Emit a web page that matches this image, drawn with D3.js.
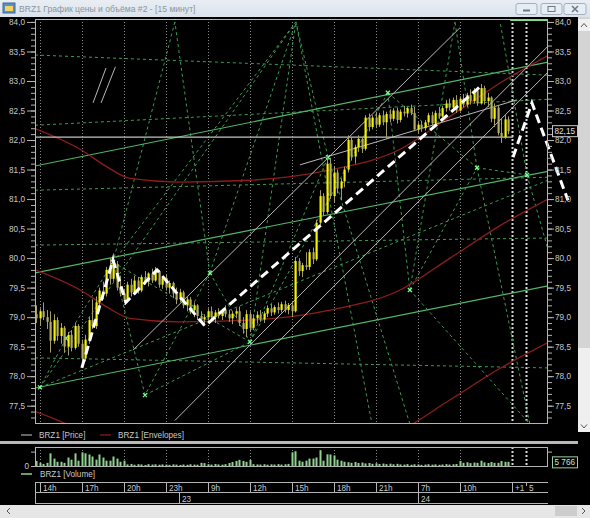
<!DOCTYPE html>
<html>
<head>
<meta charset="utf-8">
<script src="https://cdn.jsdelivr.net/npm/d3@7"></script>
<style>
  body { margin: 0; background: #000; overflow: hidden; }
  svg text { font-family: "Liberation Sans", Arial, sans-serif; }
</style>
</head>
<body>
<script>
// ---- data: 15-minute bars, BRZ1 ----
var opens = [79.05,78.98,79.10,79.00,78.92,78.60,78.95,78.68,78.82,78.50,
  78.70,78.48,78.85,78.55,78.30,78.62,78.95,78.85,79.25,79.45,
  79.40,79.80,79.65,79.90,79.50,79.40,79.30,79.55,79.42,79.62,
  79.45,79.68,79.60,79.74,79.62,79.78,79.55,79.66,79.50,79.58,
  79.40,79.30,79.42,79.20,79.30,79.12,79.20,79.02,78.96,79.00,
  79.10,79.00,79.08,79.02,79.12,79.05,78.98,79.06,79.10,78.90,
  78.80,79.05,78.82,78.98,79.04,78.96,79.06,79.15,79.08,79.17,
  79.12,79.22,79.12,79.20,79.10,79.95,79.78,79.88,79.85,80.10,
  79.98,80.60,81.05,80.78,81.60,81.05,81.45,81.18,81.30,81.50,
  82.00,81.72,81.88,82.02,81.85,82.38,82.22,82.38,82.26,82.42,
  82.30,82.44,82.36,82.50,82.34,82.48,82.45,82.54,82.46,82.18,
  82.26,82.20,82.30,82.42,82.28,82.46,82.40,82.54,82.62,82.55,
  82.68,82.50,82.70,82.60,82.76,82.66,82.84,82.62,82.88,82.66,
  82.72,82.36,82.55,82.12,82.05,82.35];
var highs = [79.20,79.15,79.25,79.12,79.10,79.05,79.00,78.90,78.85,78.75,
  78.78,78.90,78.88,78.62,78.70,79.00,79.30,79.35,79.50,79.60,
  79.85,80.00,80.08,79.95,79.70,79.48,79.60,79.65,79.70,79.68,
  79.72,79.78,79.76,79.82,79.85,79.80,79.70,79.72,79.62,79.60,
  79.50,79.48,79.45,79.35,79.34,79.25,79.22,79.10,79.05,79.15,
  79.18,79.12,79.15,79.14,79.20,79.12,79.10,79.15,79.18,79.00,
  79.12,79.10,79.05,79.10,79.12,79.10,79.20,79.22,79.20,79.25,
  79.26,79.28,79.24,79.26,80.02,80.00,79.92,80.10,80.15,80.18,
  80.65,81.15,81.10,81.75,81.70,81.55,81.50,81.35,81.55,82.08,
  82.05,81.92,82.08,82.05,82.42,82.45,82.42,82.48,82.46,82.50,
  82.48,82.52,82.54,82.55,82.52,82.58,82.56,82.60,82.56,82.30,
  82.32,82.34,82.46,82.48,82.50,82.56,82.58,82.68,82.70,82.72,
  82.76,82.74,82.78,82.80,82.86,82.88,82.90,82.95,82.92,82.80,
  82.74,82.62,82.58,82.36,82.42,82.40];
var lows = [78.90,78.85,78.95,78.80,78.40,78.55,78.60,78.55,78.40,78.35,
  78.42,78.45,78.50,78.14,78.25,78.55,78.80,78.80,79.15,79.30,
  79.35,79.55,79.60,79.45,79.35,79.24,79.28,79.35,79.40,79.40,
  79.42,79.55,79.52,79.58,79.60,79.50,79.48,79.45,79.40,79.32,
  79.22,79.25,79.15,79.10,79.05,79.00,78.95,78.90,78.85,78.92,
  78.95,78.90,78.98,78.95,79.00,78.92,78.88,78.98,78.85,78.72,
  78.66,78.75,78.78,78.90,78.92,78.90,79.00,79.02,79.04,79.06,
  79.08,79.08,79.05,79.00,79.08,79.70,79.68,79.80,79.80,79.90,
  79.95,80.55,80.72,80.75,81.00,80.95,81.10,80.98,81.20,81.45,
  81.65,81.60,81.80,81.78,81.82,82.15,82.18,82.20,82.22,82.25,
  82.02,82.30,82.32,82.28,82.30,82.40,82.38,82.42,82.15,82.12,
  82.14,82.16,82.25,82.24,82.26,82.36,82.38,82.48,82.50,82.52,
  82.46,82.48,82.55,82.56,82.60,82.62,82.58,82.60,82.60,82.56,
  82.30,82.22,82.08,81.95,82.02,82.10];
var closes = [78.98,79.10,79.00,78.92,78.60,78.95,78.68,78.82,78.50,78.70,
  78.48,78.85,78.55,78.30,78.62,78.95,78.85,79.25,79.45,79.40,
  79.80,79.65,79.90,79.50,79.40,79.30,79.55,79.42,79.62,79.45,
  79.68,79.60,79.74,79.62,79.78,79.55,79.66,79.50,79.58,79.40,
  79.30,79.42,79.20,79.30,79.12,79.20,79.02,78.96,79.00,79.10,
  79.00,79.08,79.02,79.12,79.05,78.98,79.06,79.10,78.90,78.80,
  79.05,78.82,78.98,79.04,78.96,79.06,79.15,79.08,79.17,79.12,
  79.22,79.12,79.20,79.10,79.95,79.78,79.88,79.85,80.10,79.98,
  80.60,81.05,80.78,81.60,81.05,81.45,81.18,81.30,81.50,82.00,
  81.72,81.88,82.02,81.85,82.38,82.22,82.38,82.26,82.42,82.30,
  82.44,82.36,82.50,82.34,82.48,82.45,82.54,82.46,82.18,82.26,
  82.20,82.30,82.42,82.28,82.46,82.40,82.54,82.62,82.55,82.68,
  82.50,82.70,82.60,82.76,82.66,82.84,82.62,82.88,82.66,82.72,
  82.36,82.55,82.12,82.05,82.35,82.15];
var volumes = [7000,4400,2900,4400,17600,10300,5900,5900,4400,11800,
  8800,17600,7400,19000,17600,16000,13200,8800,16000,11800,
  7400,7400,13200,10300,5900,7400,2200,2900,1800,2500,
  2200,1500,2600,2000,2400,1800,2200,2000,1600,2300,
  1900,1500,2100,1700,2400,2000,1800,4400,4000,2500,
  2000,2800,2200,1900,2600,4200,5500,7000,8600,7000,
  5800,8400,2600,2200,2000,2500,1800,2300,2100,2600,
  2000,2400,2900,19000,20500,7400,5900,7400,10300,10300,
  11800,22000,7400,16200,16000,14700,8800,7400,5900,5200,
  4400,5600,4200,4800,3600,4200,3000,3800,2800,3400,
  2600,3200,2400,3000,2200,2000,2600,1800,2400,2200,
  1600,2000,2500,1900,2300,1700,2100,2600,2000,2400,
  2800,7000,4400,5200,4000,4800,4400,7400,5000,4200,
  5600,4400,4400,7000,5800,5766];

// envelope middle line (MA), bands are +/-3%
var envIdx = [-0.4, 12.5, 20.2, 26.8, 41, 61, 84, 104, 118.3, 132.6, 146.3];
var envMid = [79.80, 79.46, 79.17, 78.98, 78.92, 78.95, 79.12, 79.46, 80.00, 80.55, 81.00];

// time axis
var tickIdx = [1, 13, 25, 37, 49, 61, 73, 85, 97, 109, 121, 136, 140];
var tickLabels = ["14h", "17h", "20h", "23h", "9h", "12h", "15h", "18h", "21h", "7h", "10h", "+1", "5"];
var dayIdx = [40.8, 109];
var dayLabels = ["23", "24"];
var priceTicks = [77.5, 78.0, 78.5, 79.0, 79.5, 80.0, 80.5, 81.0, 81.5, 82.0, 82.5, 83.0, 83.5, 84.0];
var lastPrice = 82.15;

// drawing objects: [index1, price1, index2, price2]
var zigzagA = [[13, 78.14], [21.9, 79.97], [25.6, 79.25], [34.5, 79.80], [48.2, 78.85], [127.4, 82.93]];
var zigzagB = [[136.3, 81.71], [141.7, 82.63], [152.0, 80.98]];
var channelLines = [
  [-0.4, 81.56, 146.3, 83.32],
  [-0.4, 79.75, 146.3, 81.47],
  [-0.4, 77.80, 146.3, 79.53]
];
var grayLines = [
  [27.6, 78.44, 121.1, 83.90],
  [39.6, 77.25, 146.3, 83.59],
  [63.9, 78.27, 146.3, 83.15],
  [75.4, 81.58, 137.4, 82.68],
  [16.2, 82.63, 19.9, 83.22],
  [18.5, 82.63, 22.6, 83.24]
];
var lastLine = [-0.4, 82.05, 136.3, 82.05];
var dashedLines = [
  [-0.4, 83.44, 146.3, 83.10],
  [-0.4, 82.25, 146.3, 82.69],
  [-0.4, 81.15, 146.3, 81.37],
  [-0.4, 80.22, 146.3, 80.34],
  [-0.4, 78.31, 146.3, 78.14],
  [1.03, 77.81, 74.2, 84.0],
  [1.03, 77.81, 146.3, 81.32],
  [21.9, 79.93, 74.2, 84.0],
  [21.9, 79.93, 61.1, 78.58],
  [61.1, 78.58, 74.2, 84.0],
  [61.1, 78.58, 100.5, 82.80],
  [74.2, 84.0, 95.97, 77.19],
  [83.4, 81.71, 106.8, 77.19],
  [100.5, 82.80, 126.0, 81.53],
  [126.0, 81.53, 119.7, 84.0],
  [126.0, 81.53, 140.3, 81.41],
  [49.6, 79.75, 39.6, 84.0],
  [49.6, 79.75, 31.05, 77.68],
  [31.05, 77.68, 61.1, 78.58],
  [106.8, 79.46, 119.7, 84.0],
  [106.8, 79.46, 141.1, 77.19],
  [83.4, 81.71, 74.2, 84.0],
  [83.4, 81.71, 61.1, 78.58],
  [100.5, 82.80, 106.8, 79.46],
  [106.8, 79.46, 126.0, 81.53],
  [126.0, 81.53, 141.1, 77.19],
  [140.3, 81.41, 132.6, 84.0],
  [140.3, 81.41, 146.3, 80.14],
  [31.05, 77.68, 21.9, 79.93],
  [8.46, 78.64, 21.9, 79.93],
  [8.46, 78.64, 1.03, 77.81],
  [49.6, 79.75, 61.1, 78.58],
  [49.6, 79.75, 74.2, 84.0],
  [39.6, 84.0, 21.9, 79.93]
];
var nodes = [[1.03, 77.81], [21.9, 79.93], [49.6, 79.75], [61.1, 78.58], [83.4, 81.71], [100.5, 82.80], [126.0, 81.53], [31.05, 77.68], [8.46, 78.64], [106.8, 79.46], [140.3, 81.41]];

// ---- layout ----
var svg = d3.select("body").append("svg").attr("width", 590).attr("height", 518);
var x = d3.scaleLinear().domain([-0.4, 146.3]).range([35, 548]);
var y = d3.scaleLinear().domain([77.19, 84.05]).range([424, 19]);
var yv = d3.scaleLinear().domain([0, 25000]).range([466, 448]);
var fmt = function(v) { return d3.format(".1f")(v).replace(".", ","); };
var textCol = "#c8c8c8";

// window chrome
var grad = svg.append("defs").append("linearGradient").attr("id", "tb").attr("x1", 0).attr("x2", 0).attr("y1", 0).attr("y2", 1);
grad.append("stop").attr("offset", 0).attr("stop-color", "#e9eef4");
grad.append("stop").attr("offset", 1).attr("stop-color", "#dae2eb");
svg.append("rect").attr("width", 590).attr("height", 17).attr("fill", "url(#tb)");
svg.append("rect").attr("x", 0).attr("y", 17).attr("width", 578).attr("height", 488).attr("fill", "#000");
svg.append("rect").attr("x", 3).attr("y", 3).attr("width", 12).attr("height", 10).attr("fill", "#5a8fc8").attr("stroke", "#3d6a9c");
svg.append("rect").attr("x", 5).attr("y", 6).attr("width", 8).attr("height", 5).attr("fill", "#f4d35e");
svg.append("text").attr("x", 19).attr("y", 12).attr("font-size", 8.6).attr("fill", "#8c949c")
  .text("BRZ1 График цены и объёма #2 - [15 минут]");
[[516, 21], [541, 21], [564, 22]].forEach(function(b) {
  svg.append("rect").attr("x", b[0]).attr("y", 3.5).attr("width", b[1]).attr("height", 11).attr("rx", 2)
    .attr("fill", "#e7edf4").attr("stroke", "#a3afbd");
});
svg.append("line").attr("x1", 523).attr("x2", 530).attr("y1", 10.5).attr("y2", 10.5).attr("stroke", "#6c7785").attr("stroke-width", 2);
svg.append("rect").attr("x", 548).attr("y", 6.5).attr("width", 7).attr("height", 5).attr("fill", "none").attr("stroke", "#6c7785");
svg.append("path").attr("d", "M572,6L578,12M578,6L572,12").attr("stroke", "#6c7785").attr("stroke-width", 1.5);

// scrollbars
svg.append("rect").attr("x", 578).attr("y", 17).attr("width", 12).attr("height", 415).attr("fill", "#d4d4d4");
svg.append("rect").attr("x", 578).attr("y", 348).attr("width", 12).attr("height", 76).attr("fill", "#efefef");
svg.append("rect").attr("x", 578).attr("y", 19).attr("width", 12).attr("height", 12).attr("fill", "#f0f0f0");
svg.append("rect").attr("x", 578).attr("y", 421).attr("width", 12).attr("height", 11).attr("fill", "#f0f0f0");
svg.append("path").attr("d", "M581,27L584,23.5L587,27").attr("fill", "none").attr("stroke", "#555");
svg.append("path").attr("d", "M581,424.5L584,428L587,424.5").attr("fill", "none").attr("stroke", "#555");
svg.append("rect").attr("x", 0).attr("y", 505).attr("width", 590).attr("height", 13).attr("fill", "#e6e6e6");
svg.append("rect").attr("x", 555).attr("y", 506).attr("width", 22).attr("height", 10).attr("fill", "#cdcdcd");
svg.append("path").attr("d", "M10,508L7,511L10,514").attr("fill", "none").attr("stroke", "#555");
svg.append("path").attr("d", "M582,508L585,511L582,514").attr("fill", "none").attr("stroke", "#555");

// ---- price panel ----
svg.append("clipPath").attr("id", "plot").append("rect").attr("x", 35).attr("y", 19).attr("width", 513).attr("height", 405);
var plot = svg.append("g").attr("clip-path", "url(#plot)");

// vertical time grid
plot.selectAll(null).data(tickIdx).join("line")
  .attr("x1", function(d) { return Math.round(x(d)) + 0.5; })
  .attr("x2", function(d) { return Math.round(x(d)) + 0.5; })
  .attr("y1", 19).attr("y2", 424)
  .attr("stroke", function(d, i) { return i >= 11 ? "#d8d8d8" : "#8a8a8a"; })
  .attr("stroke-width", function(d, i) { return i >= 11 ? 2 : 1; })
  .attr("stroke-dasharray", function(d, i) { return i >= 11 ? "2,2" : "1,2"; });

function drawSegs(g, arr, col, w, dash) {
  g.selectAll(null).data(arr).join("line")
    .attr("x1", function(d) { return x(d[0]); }).attr("y1", function(d) { return y(d[1]); })
    .attr("x2", function(d) { return x(d[2]); }).attr("y2", function(d) { return y(d[3]); })
    .attr("stroke", col).attr("stroke-width", w).attr("stroke-dasharray", dash);
}

drawSegs(plot, dashedLines, "#3c9c52", 1, "3,3");
drawSegs(plot, channelLines, "#4fb86a", 1.2, null);

// envelopes
var envLine = function(k) {
  return d3.line().x(function(d, i) { return x(envIdx[i]); })
    .y(function(d) { return y(d * k); }).curve(d3.curveMonotoneX)(envMid);
};
[1.03, 1, 0.97].forEach(function(k) {
  plot.append("path").attr("d", envLine(k)).attr("fill", "none").attr("stroke", "#8e1c1c").attr("stroke-width", 1.3);
});

drawSegs(plot, grayLines, "#b8b8b8", 1, null);
drawSegs(plot, [lastLine], "#c4c4c4", 1.2, null);

// green nodes
plot.selectAll(null).data(nodes).join("path")
  .attr("d", function(d) { var cx = x(d[0]), cy = y(d[1]); return "M" + (cx - 2) + "," + (cy - 2) + "L" + (cx + 2) + "," + (cy + 2) + "M" + (cx + 2) + "," + (cy - 2) + "L" + (cx - 2) + "," + (cy + 2); })
  .attr("stroke", "#7dff8f").attr("stroke-width", 1.2);

// candles
var bars = d3.range(closes.length);
plot.selectAll(null).data(bars).join("line")
  .attr("x1", function(i) { return Math.round(x(i)) + 0.5; })
  .attr("x2", function(i) { return Math.round(x(i)) + 0.5; })
  .attr("y1", function(i) { return y(highs[i]); })
  .attr("y2", function(i) { return y(lows[i]); })
  .attr("stroke", "#a39d68");
plot.selectAll(null).data(bars).join("rect")
  .attr("x", function(i) { return Math.round(x(i)) - 0.5; })
  .attr("width", 2.2)
  .attr("y", function(i) { return y(Math.max(opens[i], closes[i])); })
  .attr("height", function(i) { return Math.max(1, Math.abs(y(opens[i]) - y(closes[i]))); })
  .attr("fill", function(i) { return closes[i] >= opens[i] ? "#f4f400" : "#b3ab66"; });

// zigzag (dashed white)
var zz = d3.line().x(function(d) { return x(d[0]); }).y(function(d) { return y(d[1]); });
plot.append("path").attr("d", zz(zigzagA)).attr("fill", "none").attr("stroke", "#fff").attr("stroke-width", 3).attr("stroke-dasharray", "9,5");
svg.append("path").attr("d", zz(zigzagB)).attr("fill", "none").attr("stroke", "#fff").attr("stroke-width", 3).attr("stroke-dasharray", "9,5");

// top-right marker
svg.append("line").attr("x1", x(135.5)).attr("x2", 548).attr("y1", 20).attr("y2", 20).attr("stroke", "#86dc8a").attr("stroke-width", 2);

// frame
svg.append("rect").attr("x", 35.5).attr("y", 19.5).attr("width", 512).attr("height", 404).attr("fill", "none").attr("stroke", "#b4b4b4");

// price axes
function styleAxis(g) {
  g.select(".domain").remove();
  g.selectAll("line").attr("stroke", "#b4b4b4");
  g.selectAll("text").attr("fill", textCol).attr("font-size", 8.2).attr("font-family", "Liberation Sans, Arial, sans-serif");
}
var minor = y.ticks(70).filter(function(v) { return v > 77.2 && v < 84.04; });
svg.append("g").attr("transform", "translate(35,0)")
  .call(d3.axisLeft(y).tickValues(minor).tickSize(4).tickFormat("")).call(styleAxis);
svg.append("g").attr("transform", "translate(35,0)")
  .call(d3.axisLeft(y).tickValues(priceTicks).tickSize(8).tickPadding(2).tickFormat(fmt)).call(styleAxis);
svg.append("g").attr("transform", "translate(548,0)")
  .call(d3.axisRight(y).tickValues(minor).tickSize(4).tickFormat("")).call(styleAxis);
svg.append("g").attr("transform", "translate(548,0)")
  .call(d3.axisRight(y).tickValues(priceTicks).tickSize(6).tickPadding(1).tickFormat(fmt)).call(styleAxis);

// last price box
var lastY = y(lastPrice);
svg.append("rect").attr("x", 552.5).attr("y", lastY - 5.5).attr("width", 25).attr("height", 11).attr("fill", "#000").attr("stroke", "#c8c8c8");
svg.append("text").attr("x", 554.5).attr("y", lastY + 3).attr("font-size", 8.2).attr("fill", "#e0e0e0")
  .text(d3.format(".2f")(lastPrice).replace(".", ","));

// legend
svg.append("line").attr("x1", 21).attr("x2", 32).attr("y1", 435).attr("y2", 435).attr("stroke", "#c8c8c8");
svg.append("text").attr("x", 39).attr("y", 438).attr("font-size", 8.2).attr("fill", textCol).text("BRZ1 [Price]");
svg.append("line").attr("x1", 100).attr("x2", 111).attr("y1", 435).attr("y2", 435).attr("stroke", "#b02020");
svg.append("text").attr("x", 118).attr("y", 438).attr("font-size", 8.2).attr("fill", textCol).text("BRZ1 [Envelopes]");
svg.append("rect").attr("x", 0).attr("y", 441).attr("width", 578).attr("height", 3).attr("fill", "#b8b8b8");

// ---- volume panel ----
svg.selectAll(null).data(tickIdx).join("line")
  .attr("x1", function(d) { return Math.round(x(d)) + 0.5; })
  .attr("x2", function(d) { return Math.round(x(d)) + 0.5; })
  .attr("y1", 447).attr("y2", 466)
  .attr("stroke", function(d, i) { return i >= 11 ? "#d8d8d8" : "#8a8a8a"; })
  .attr("stroke-width", function(d, i) { return i >= 11 ? 2 : 1; })
  .attr("stroke-dasharray", function(d, i) { return i >= 11 ? "2,2" : "1,2"; });
svg.selectAll(null).data(bars).join("rect")
  .attr("x", function(i) { return Math.round(x(i)) - 0.5; })
  .attr("width", 2)
  .attr("y", function(i) { return yv(volumes[i]); })
  .attr("height", function(i) { return yv(0) - yv(volumes[i]); })
  .attr("fill", "#8fd28f");
svg.append("rect").attr("x", 35.5).attr("y", 447.5).attr("width", 512).attr("height", 19).attr("fill", "none").attr("stroke", "#b4b4b4");
svg.append("g").attr("transform", "translate(35,0)")
  .call(d3.axisLeft(yv).tickValues([0, 20000]).tickSize(4).tickPadding(2).tickFormat(function(v) { return v === 0 ? "0" : ""; }))
  .call(styleAxis);
svg.append("g").attr("transform", "translate(548,0)")
  .call(d3.axisRight(yv).tickValues([20000]).tickSize(4).tickFormat("")).call(styleAxis);
var lastV = yv(volumes[volumes.length - 1]);
svg.append("rect").attr("x", 552.5).attr("y", lastV - 5).attr("width", 25).attr("height", 11).attr("fill", "#000").attr("stroke", "#9ccf9c");
svg.append("text").attr("x", 554.5).attr("y", lastV + 3.5).attr("font-size", 8.2).attr("fill", "#c8e8c8")
  .text(d3.format(",")(volumes[volumes.length - 1]).replace(",", " "));
svg.append("line").attr("x1", 21).attr("x2", 32).attr("y1", 474).attr("y2", 474).attr("stroke", "#8fd28f").attr("stroke-width", 1.5);
svg.append("text").attr("x", 40).attr("y", 477).attr("font-size", 8.2).attr("fill", textCol).text("BRZ1 [Volume]");

// ---- time axis ----
var axCol = "#b4b4b4";
[482.5, 492.5, 503.5].forEach(function(yy) {
  svg.append("line").attr("x1", 35).attr("x2", 548).attr("y1", yy).attr("y2", yy).attr("stroke", axCol);
});
svg.append("line").attr("x1", 35.5).attr("x2", 35.5).attr("y1", 482).attr("y2", 504).attr("stroke", axCol);
svg.selectAll(null).data(tickIdx).join("line")
  .attr("x1", function(d) { return Math.round(x(d)) + 0.5; })
  .attr("x2", function(d) { return Math.round(x(d)) + 0.5; })
  .attr("y1", function(d, i) { return i === 12 ? 483 : 482; })
  .attr("y2", function(d, i) { return i === 12 ? 486 : 492; })
  .attr("stroke", axCol);
svg.selectAll(null).data(tickIdx).join("text")
  .attr("x", function(d) { return Math.round(x(d)) + 3; })
  .attr("y", 490.5).attr("font-size", 8.2).attr("fill", textCol)
  .text(function(d, i) { return tickLabels[i]; });
svg.selectAll(null).data(dayIdx).join("line")
  .attr("x1", function(d) { return Math.round(x(d)) + 0.5; })
  .attr("x2", function(d) { return Math.round(x(d)) + 0.5; })
  .attr("y1", 492).attr("y2", 504).attr("stroke", axCol);
svg.selectAll(null).data(dayIdx).join("text")
  .attr("x", function(d) { return Math.round(x(d)) + 3; })
  .attr("y", 501.5).attr("font-size", 8.2).attr("fill", textCol)
  .text(function(d, i) { return dayLabels[i]; });
</script>
</body>
</html>
